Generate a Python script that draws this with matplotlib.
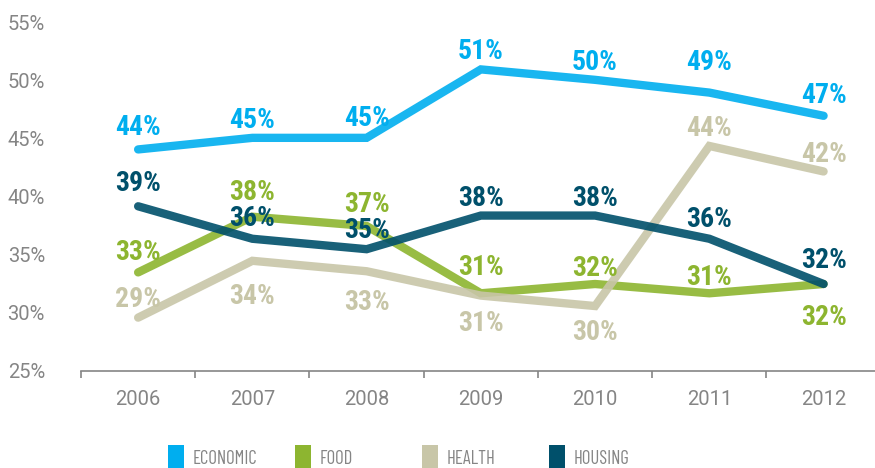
import matplotlib
matplotlib.use('Agg')
import matplotlib.pyplot as plt
from matplotlib.patches import Rectangle

#chart data
years = ['2006', '2007', '2008', '2009', '2010', '2011', '2012']
series_names = ['ECONOMIC', 'FOOD', 'HEALTH', 'HOUSING']

economic = [44.1, 45.1, 45.1, 51.0, 50.1, 49.0, 47.0]
food = [33.5, 38.3, 37.5, 31.7, 32.5, 31.7, 32.5]
health = [29.6, 34.5, 33.6, 31.5, 30.6, 44.4, 42.2]
housing = [39.2, 36.4, 35.5, 38.4, 38.4, 36.4, 32.5]

economic_labels = ['44%', '45%', '45%', '51%', '50%', '49%', '47%']
food_labels = ['33%', '38%', '37%', '31%', '32%', '31%', '32%']
health_labels = ['29%', '34%', '33%', '31%', '30%', '44%', '42%']
housing_labels = ['39%', '36%', '35%', '38%', '38%', '36%', '32%']

yticks = [25, 30, 35, 40, 45, 50, 55]

#label baseline offsets (pixels, up is positive)
economic_off = [14, 10, 12, 10, 10, 23, 13]
food_off = [12, 17, 14, 18, 8, 8, -41]
health_off = [11, -43, -39, -35, -34, 10, 9]
housing_off = [15, 13, 11, 10, 10, 12, 16]

colors = ['#00AEEF', '#8DB530', '#C8C6A8', '#00506B']
grey = '#858585'

dpi = 100
W, H = 875, 468
fig = plt.figure(figsize=(W/dpi, H/dpi), dpi=dpi)
ax = fig.add_axes([81/W, 1-371/H, 1-81/W, (371-23)/H])

x = list(range(len(years)))
allData = [economic, food, health, housing]
allLabels = [economic_labels, food_labels, health_labels, housing_labels]
allOffs = [economic_off, food_off, health_off, housing_off]

for vals, col in zip(allData, colors):
	ax.plot(x, vals, color=col, lw=6, alpha=0.9, solid_capstyle='round', solid_joinstyle='miter')

labelFont = ['Roboto Condensed', 'IBM Plex Sans Condensed', 'Roboto']
legendFont = ['Barlow Condensed', 'Roboto Condensed', 'Roboto']
for vals, labs, offs, col in zip(allData, allLabels, allOffs, colors):
	for i in range(len(vals)):
		ax.annotate(labs[i], (x[i], vals[i]), xytext=(0, offs[i]*72/dpi), textcoords='offset points',
			ha='center', va='baseline', color=col, fontsize=20, fontweight='bold', family=labelFont)

ax.set_xlim(-0.5, 6.45)
ax.set_ylim(25, 55)

ax.set_yticks(yticks)
ax.set_yticklabels(['%d%%'%v for v in yticks])
ax.set_xticks(x)
ax.set_xticklabels(years)
ax.set_xticks([i - 0.5 for i in range(len(years))], minor=True)

for lab in ax.get_xticklabels() + ax.get_yticklabels():
	lab.set_family('Roboto')
	lab.set_fontsize(14.5)
	lab.set_color(grey)

ax.tick_params(axis='x', which='major', length=0, pad=14)
ax.tick_params(axis='x', which='minor', length=5, width=1.2, color=grey)
ax.tick_params(axis='y', length=0, pad=26)

for s in ['top', 'right', 'left']:
	ax.spines[s].set_visible(False)
ax.spines['bottom'].set_color(grey)
ax.spines['bottom'].set_linewidth(1.2)

#legend drawn by hand so columns have equal pitch
for i, name in enumerate(series_names):
	px = 168 + 127*i
	fig.add_artist(Rectangle((px/W, 0), 16/W, (468-445)/H, transform=fig.transFigure,
		facecolor=colors[i], edgecolor='none'))
	fig.text((px+25)/W, 1-464/H, name, ha='left', va='baseline', color=grey,
		fontsize=13.5, fontweight='normal', family=legendFont)

fig.savefig('out.png', dpi=dpi)
